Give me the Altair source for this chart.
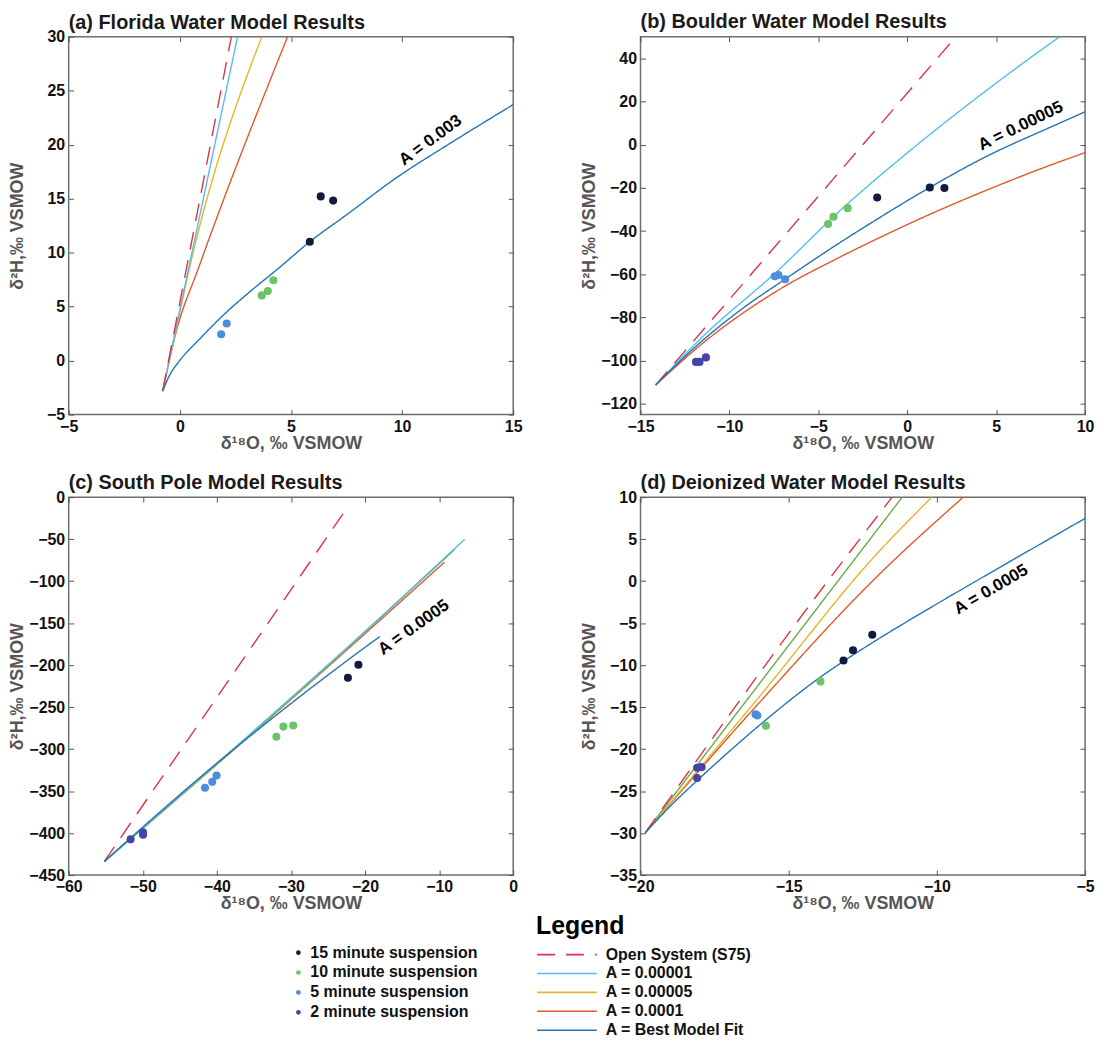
import altair as alt
import pandas as pd

FONT = "Liberation Sans"

# ---------------- categories ----------------
SUSP = ["15 minute suspension", "10 minute suspension", "5 minute suspension", "2 minute suspension"]
SUSP_COLORS = ["#141a3e", "#6cc36a", "#4b8fd8", "#4545a8"]
MODELS = ["Open System (S75)", "A = 0.00001", "A = 0.00005", "A = 0.0001",
          "A = Best Model Fit", "A = 0.00001 (green)"]
MODEL_COLORS = ["#dc3447", "#53bfe6", "#e6b42a", "#e0582c", "#2574b4", "#6aaa4c"]
MODEL_DASH = [[18, 11], [1, 0], [1, 0], [1, 0], [1, 0], [1, 0]]
LEGEND_MODELS = MODELS[:5]

# ---------------- panel (a) Florida ----------------
A_15_X = [6.34, 6.90, 5.85]
A_15_Y = [15.21, 14.82, 11.01]
A_10_X = [3.69, 3.96, 4.21]
A_10_Y = [6.04, 6.44, 7.45]
A_5_X = [1.86, 2.11]
A_5_Y = [2.45, 3.44]
A_OPEN_X = [-0.77, 2.32]
A_OPEN_Y = [-2.82, 30.0]
A_M1_X = [-0.77, 2.60]
A_M1_Y = [-2.82, 30.0]
A_M5_X = [-0.77, -0.20, 0.45, 3.69]
A_M5_Y = [-2.82, 2.55, 8.68, 30.0]
A_M10_X = [-0.77, -0.18, 0.86, 4.85]
A_M10_Y = [-2.82, 2.55, 8.68, 30.0]
A_BEST_X = [-0.77, -0.48, -0.03, 0.86, 2.05, 3.24, 4.43, 5.85, 7.56, 9.79, 12.02, 15.0]
A_BEST_Y = [-2.82, -1.44, -0.06, 1.93, 4.39, 6.53, 8.53, 11.01, 13.59, 17.0, 19.94, 23.71]
A_LABEL = ["A = 0.003"]
A_LABEL_X = [11.28]
A_LABEL_Y = [20.4]

# ---------------- panel (b) Boulder ----------------
B_15_X = [-1.69, 1.27, 2.09]
B_15_Y = [-24.5, -19.8, -20.1]
B_10_X = [-4.45, -4.15, -3.35]
B_10_Y = [-36.7, -33.4, -29.4]
B_5_X = [-7.45, -7.24, -6.87]
B_5_Y = [-60.9, -60.4, -62.3]
B_2_X = [-11.88, -11.68, -11.32]
B_2_Y = [-100.6, -100.6, -98.5]
B_OPEN_X = [-14.15, 2.74]
B_OPEN_Y = [-111.3, 50.0]
B_M1_X = [-14.15, -11.58, -7.30, -3.76, -0.41, 3.31, 8.34, 8.58]
B_M1_Y = [-111.3, -89.5, -58.5, -30.4, -6.6, 17.9, 48.6, 50.0]
B_BEST_X = [-14.15, -11.58, -9.35, -6.87, -4.13, -1.34, 1.27, 4.25, 8.44, 10.0]
B_BEST_Y = [-111.3, -91.2, -76.4, -62.3, -47.2, -32.7, -19.8, -6.3, 9.5, 15.2]
B_M10_X = [-14.15, -11.58, -6.87, -4.13, -1.34, 1.45, 4.25, 8.44, 10.0]
B_M10_Y = [-111.3, -92.5, -65.5, -53.5, -42.2, -31.6, -21.8, -8.3, -3.7]
B_LABEL = ["A = 0.00005"]
B_LABEL_X = [6.38]
B_LABEL_Y = [8.6]

# ---------------- panel (c) South Pole ----------------
C_15_X = [-22.31, -20.89]
C_15_Y = [-215.0, -199.6]
C_10_X = [-31.96, -31.02, -29.69]
C_10_Y = [-285.4, -273.2, -272.0]
C_5_X = [-41.6, -40.62, -40.04]
C_5_Y = [-346.1, -339.0, -331.5]
C_2_X = [-51.64, -49.96, -49.96]
C_2_Y = [-407.5, -399.2, -402.0]
C_OPEN_X = [-55.2, -22.62]
C_OPEN_Y = [-433.9, -15.4]
C_M1_X = [-55.2, -40.0, -30.0, -20.0, -6.53]
C_M1_Y = [-433.9, -317.0, -239.0, -160.0, -50.0]
C_G_X = [-55.2, -30.0, -7.87]
C_G_Y = [-433.9, -240.0, -62.0]
C_M5_X = [-55.2, -30.0, -8.2]
C_M5_Y = [-433.9, -240.5, -64.0]
C_M10_X = [-55.2, -30.0, -9.29]
C_M10_Y = [-433.9, -241.0, -77.6]
C_BEST_X = [-55.2, -45.0, -40.0, -35.0, -30.0, -25.0, -20.0, -18.0]
C_BEST_Y = [-433.9, -354.3, -316.8, -280.8, -245.8, -211.8, -178.8, -166.0]
C_LABEL = ["A = 0.0005"]
C_LABEL_X = [-13.42]
C_LABEL_Y = [-155.1]

# ---------------- panel (d) Deionized ----------------
D_15_X = [-13.15, -12.83, -12.18]
D_15_Y = [-9.46, -8.24, -6.39]
D_10_X = [-13.93, -15.77]
D_10_Y = [-11.94, -17.22]
D_5_X = [-16.12, -16.06]
D_5_Y = [-15.85, -16.0]
D_2_X = [-18.09, -17.94, -18.09]
D_2_Y = [-22.23, -22.15, -23.45]
D_OPEN_X = [-19.84, -13.91, -11.51]
D_OPEN_Y = [-29.96, -1.06, 10.0]
D_G_X = [-19.84, -11.17]
D_G_Y = [-29.96, 10.0]
D_M5_X = [-19.84, -16.0, -12.09, -10.17]
D_M5_Y = [-29.96, -13.8, 3.0, 10.0]
D_M10_X = [-19.84, -16.0, -12.09, -9.11]
D_M10_Y = [-29.96, -14.5, 0.3, 10.0]
D_BEST_X = [-19.84, -18.94, -17.94, -16.82, -15.77, -13.93, -13.15, -12.09, -10.5, -8.73, -7.0, -5.15, -5.0]
D_BEST_Y = [-29.96, -26.6, -23.26, -19.7, -16.52, -11.43, -9.54, -7.14, -3.75, -0.1, 3.42, 7.16, 7.46]
D_LABEL = ["A = 0.0005"]
D_LABEL_X = [-8.17]
D_LABEL_Y = [-1.0]

# ---------------- helpers ----------------
def curves_df(items):
    rows = []
    for model, xs, ys in items:
        for i, (x, y) in enumerate(zip(xs, ys)):
            rows.append({"model": model, "x": x, "y": y, "i": i})
    return pd.DataFrame(rows)


def points_df(items):
    rows = []
    for series, xs, ys in items:
        for x, y in zip(xs, ys):
            rows.append({"series": series, "x": x, "y": y})
    return pd.DataFrame(rows)


FILL_LEGEND = alt.Legend(
    title=None, orient="none", legendX=223, legendY=913, direction="vertical",
    values=SUSP, symbolType="circle", symbolSize=22, symbolStrokeWidth=0,
    labelFont=FONT, labelFontSize=16, labelFontWeight="bold", labelColor="#111111",
    labelOffset=4, rowPadding=4, labelLimit=400,
)
STROKE_LEGEND = alt.Legend(
    title="Legend", titleFont=FONT, titleFontSize=25, titleFontWeight="bold",
    titleColor="#000000", titlePadding=5, orient="none", legendX=470, legendY=882,
    direction="vertical", values=LEGEND_MODELS, symbolType="M-1,0L5,0", symbolSize=400,
    symbolStrokeWidth=1.6, labelFont=FONT, labelFontSize=16, labelFontWeight="bold",
    labelColor="#111111", labelOffset=48, rowPadding=0, labelLimit=400,
)

W, H = 447, 380


def panel(title, xdom, ydom, xticks, yticks, curves, pts, lab_text, lab_x, lab_y, angle,
          title_offset):
    xs = alt.Scale(domain=xdom, nice=False, zero=False)
    ys = alt.Scale(domain=ydom, nice=False, zero=False)
    x_axis = alt.Axis(
        values=xticks, title="δ¹⁸O, ‰ VSMOW", orient="bottom", offset=-5, tickSize=5,
        tickColor="#555555", domain=False, grid=False, labelPadding=4, labelFlush=False,
        labelOverlap=False, labelFont=FONT, labelFontSize=16, labelFontWeight="bold",
        labelColor="#111111", titleFont=FONT, titleFontSize=18, titleFontWeight="bold",
        titleColor="#555555", minExtent=25, maxExtent=25, titlePadding=0,
    )
    y_axis = alt.Axis(
        values=yticks, title="δ²H,‰ VSMOW", orient="left", offset=-5, tickSize=5,
        tickColor="#555555", domain=False, grid=False, labelPadding=4, labelFlush=False,
        labelOverlap=False, labelFont=FONT, labelFontSize=16, labelFontWeight="bold",
        labelColor="#111111", titleFont=FONT, titleFontSize=18, titleFontWeight="bold",
        titleColor="#555555", minExtent=43, maxExtent=43, titlePadding=4,
    )
    top_axis = alt.Axis(values=xticks, orient="top", labels=False, title=None, domain=False,
                        grid=False, tickSize=5, offset=-5, tickColor="#555555",
                        minExtent=0, maxExtent=0)
    right_axis = alt.Axis(values=yticks, orient="right", labels=False, title=None, domain=False,
                          grid=False, tickSize=5, offset=-5, tickColor="#555555",
                          minExtent=0, maxExtent=0)

    cdf = curves_df(curves)
    pdf = points_df(pts)
    ldf = pd.DataFrame({"x": lab_x, "y": lab_y, "text": lab_text})

    lines = alt.Chart(cdf).mark_line(clip=True, strokeWidth=1.4, interpolate="monotone").encode(
        x=alt.X("x:Q", scale=xs, axis=x_axis),
        y=alt.Y("y:Q", scale=ys, axis=y_axis),
        stroke=alt.Stroke("model:N", scale=alt.Scale(domain=MODELS, range=MODEL_COLORS),
                          legend=STROKE_LEGEND),
        strokeDash=alt.StrokeDash("model:N", scale=alt.Scale(domain=MODELS, range=MODEL_DASH),
                                  legend=STROKE_LEGEND),
        order="i:Q",
    )
    dots = alt.Chart(pdf).mark_circle(size=66, opacity=1).encode(
        x=alt.X("x:Q", scale=xs),
        y=alt.Y("y:Q", scale=ys),
        fill=alt.Fill("series:N", scale=alt.Scale(domain=SUSP, range=SUSP_COLORS),
                      legend=FILL_LEGEND),
    )
    txt = alt.Chart(ldf).mark_text(angle=angle, font=FONT, fontSize=17, fontWeight="bold",
                                   color="#000000", align="center", baseline="middle").encode(
        x=alt.X("x:Q", scale=xs),
        y=alt.Y("y:Q", scale=ys),
        text="text:N",
    )
    inner = alt.layer(lines, dots, txt)
    ticks = alt.Chart(pdf).mark_point(opacity=0).encode(
        x=alt.X("x:Q", scale=xs, axis=top_axis),
        y=alt.Y("y:Q", scale=ys, axis=right_axis),
    )
    return alt.layer(inner, ticks).resolve_axis(x="independent", y="independent").properties(
        width=W, height=H,
        title=alt.TitleParams(text=title, anchor="start", frame="group", font=FONT,
                              fontSize=20, fontWeight="bold", color="#1a1a1a",
                              offset=title_offset),
    )


pa = panel(
    "(a) Florida Water Model Results", [-5, 15], [-5, 30],
    [-5, 0, 5, 10, 15], [-5, 0, 5, 10, 15, 20, 25, 30],
    [("A = 0.0001", A_M10_X, A_M10_Y), ("A = 0.00005", A_M5_X, A_M5_Y),
     ("A = 0.00001", A_M1_X, A_M1_Y), ("Open System (S75)", A_OPEN_X, A_OPEN_Y),
     ("A = Best Model Fit", A_BEST_X, A_BEST_Y)],
    [(SUSP[0], A_15_X, A_15_Y), (SUSP[1], A_10_X, A_10_Y), (SUSP[2], A_5_X, A_5_Y)],
    A_LABEL, A_LABEL_X, A_LABEL_Y, 323.6, -4,
)
pb = panel(
    "(b) Boulder Water Model Results", [-15, 10], [-125, 50],
    [-15, -10, -5, 0, 5, 10], [-120, -100, -80, -60, -40, -20, 0, 20, 40],
    [("A = 0.0001", B_M10_X, B_M10_Y), ("A = 0.00001", B_M1_X, B_M1_Y),
     ("Open System (S75)", B_OPEN_X, B_OPEN_Y), ("A = Best Model Fit", B_BEST_X, B_BEST_Y)],
    [(SUSP[0], B_15_X, B_15_Y), (SUSP[1], B_10_X, B_10_Y), (SUSP[2], B_5_X, B_5_Y),
     (SUSP[3], B_2_X, B_2_Y)],
    B_LABEL, B_LABEL_X, B_LABEL_Y, 334, 4,
)
pc = panel(
    "(c) South Pole Model Results", [-60, 0], [-450, 0],
    [-60, -50, -40, -30, -20, -10, 0], [-450, -400, -350, -300, -250, -200, -150, -100, -50, 0],
    [("A = 0.0001", C_M10_X, C_M10_Y), ("A = 0.00005", C_M5_X, C_M5_Y),
     ("A = 0.00001 (green)", C_G_X, C_G_Y), ("A = 0.00001", C_M1_X, C_M1_Y),
     ("Open System (S75)", C_OPEN_X, C_OPEN_Y), ("A = Best Model Fit", C_BEST_X, C_BEST_Y)],
    [(SUSP[0], C_15_X, C_15_Y), (SUSP[1], C_10_X, C_10_Y), (SUSP[2], C_5_X, C_5_Y),
     (SUSP[3], C_2_X, C_2_Y)],
    C_LABEL, C_LABEL_X, C_LABEL_Y, 324.5, -4,
)
pd_ = panel(
    "(d) Deionized Water Model Results", [-20, -5], [-35, 10],
    [-20, -15, -10, -5], [-35, -30, -25, -20, -15, -10, -5, 0, 5, 10],
    [("A = 0.0001", D_M10_X, D_M10_Y), ("A = 0.00005", D_M5_X, D_M5_Y),
     ("A = 0.00001 (green)", D_G_X, D_G_Y), ("Open System (S75)", D_OPEN_X, D_OPEN_Y),
     ("A = Best Model Fit", D_BEST_X, D_BEST_Y)],
    [(SUSP[0], D_15_X, D_15_Y), (SUSP[1], D_10_X, D_10_Y), (SUSP[2], D_5_X, D_5_Y),
     (SUSP[3], D_2_X, D_2_Y)],
    D_LABEL, D_LABEL_X, D_LABEL_Y, 329.6, -4,
)

chart = alt.concat(
    pa, pb, pc, pd_, columns=2, bounds="flush",
    spacing=alt.RowColnumber(row=83, column=128),
).properties(
    padding={"left": 0, "top": 0, "right": 0, "bottom": 0}
).configure_view(stroke="#6e6e6e", strokeWidth=1.5)

chart.save("out.html", embed_options={"renderer": "svg", "actions": False})
